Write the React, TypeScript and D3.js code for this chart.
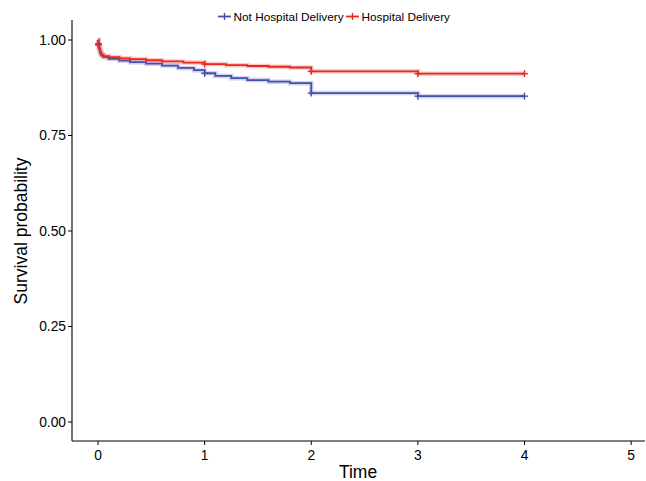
import React from "react";
import * as d3 from "d3";

const groups = ["Not Hospital Delivery", "Hospital Delivery"];
const colors = ["#4450B0", "#E8281F"];

const notHospTimes = [0, 0.004, 0.01, 0.02, 0.03, 0.05, 0.1, 0.2, 0.3, 0.45, 0.6, 0.75, 0.9, 1.0, 1.1, 1.25, 1.4, 1.6, 1.8, 2.0, 3.0];
const notHospSurv = [1.0, 0.99, 0.978, 0.967, 0.96, 0.955, 0.951, 0.946, 0.942, 0.938, 0.933, 0.927, 0.921, 0.913, 0.906, 0.9, 0.895, 0.891, 0.887, 0.861, 0.853];

const hospTimes = [0, 0.004, 0.01, 0.02, 0.03, 0.05, 0.1, 0.2, 0.3, 0.45, 0.6, 0.8, 1.0, 1.2, 1.4, 1.6, 1.8, 2.0, 3.0];
const hospSurv = [1.0, 0.987, 0.976, 0.968, 0.962, 0.958, 0.955, 0.952, 0.95, 0.947, 0.944, 0.941, 0.937, 0.934, 0.932, 0.93, 0.928, 0.918, 0.912];

const endTime = 4;
const censorTimes = [0.004, 1, 2, 3, 4];

const xTicks = [0, 1, 2, 3, 4, 5];
const yTicks = [0, 0.25, 0.5, 0.75, 1.0];

const W = 646, H = 481;
const x = d3.scaleLinear().domain([-0.244, 5.13]).range([72, 645]);
const y = d3.scaleLinear().domain([-0.0498, 1.0524]).range([441, 20]);

function survAt(times: number[], surv: number[], t: number) {
  let v = surv[0];
  for (let i = 0; i < times.length; i++) if (times[i] <= t) v = surv[i];
  return v;
}

export default function App() {
  const series = [
    { times: notHospTimes, surv: notHospSurv },
    { times: hospTimes, surv: hospSurv },
  ];
  const line = d3.line<[number, number]>().x(d => x(d[0])).y(d => y(d[1])).curve(d3.curveStepAfter);
  const font = "Liberation Sans, Arial, sans-serif";
  return (
    <svg width={W} height={H} style={{ position: "absolute", left: 0, top: 0, background: "#fff" }} fontFamily={font}>
      {/* axes */}
      <line x1={72} x2={72} y1={20} y2={441} stroke="#000" strokeWidth={1.1} />
      <line x1={72} x2={645} y1={441} y2={441} stroke="#000" strokeWidth={1.1} />
      {yTicks.map(t => (
        <g key={"y" + t}>
          <line x1={68} x2={72} y1={y(t)} y2={y(t)} stroke="#000" />
          <text x={66} y={y(t)} dy="0.35em" textAnchor="end" fontSize={13.8} fill="#000">{t.toFixed(2)}</text>
        </g>
      ))}
      {xTicks.map(t => (
        <g key={"x" + t}>
          <line x1={x(t)} x2={x(t)} y1={441} y2={445} stroke="#000" />
          <text x={x(t)} y={455} dy="0.35em" textAnchor="middle" fontSize={13.8} fill="#000">{t}</text>
        </g>
      ))}
      <text x={358} y={478} textAnchor="middle" fontSize={17.5} fill="#000">Time</text>
      <text transform={`translate(27,231) rotate(-90)`} textAnchor="middle" fontSize={17.5} fill="#000">Survival probability</text>
      {/* curves */}
      {series.map((s, i) => {
        const pts: [number, number][] = s.times.map((t, j) => [t, s.surv[j]] as [number, number]);
        pts.push([endTime, s.surv[s.surv.length - 1]]);
        const d = line(pts) || "";
        return (
          <g key={"s" + i}>
            <path d={d} fill="none" stroke={colors[i]} strokeOpacity={0.25} strokeWidth={4.5} />
            <path d={d} fill="none" stroke={colors[i]} strokeWidth={1.8} />
            {censorTimes.map(ct => {
              const cx = x(ct), cy = y(survAt(s.times, s.surv, ct));
              return (
                <g key={ct} stroke={colors[i]} strokeWidth={1.4}>
                  <line x1={cx - 3.5} x2={cx + 3.5} y1={cy} y2={cy} />
                  <line x1={cx} x2={cx} y1={cy - 3.5} y2={cy + 3.5} />
                </g>
              );
            })}
          </g>
        );
      })}
      {/* legend */}
      {groups.map((g, i) => {
        const lx = i === 0 ? 218 : 346;
        return (
          <g key={g}>
            <line x1={lx} x2={lx + 13} y1={16.5} y2={16.5} stroke={colors[i]} strokeWidth={1.8} />
            <line x1={lx + 6.5} x2={lx + 6.5} y1={13} y2={20} stroke={colors[i]} strokeWidth={1.4} />
            <text x={lx + 15.5} y={16.5} dy="0.35em" fontSize={11.8} fill="#000">{g}</text>
          </g>
        );
      })}
    </svg>
  );
}
